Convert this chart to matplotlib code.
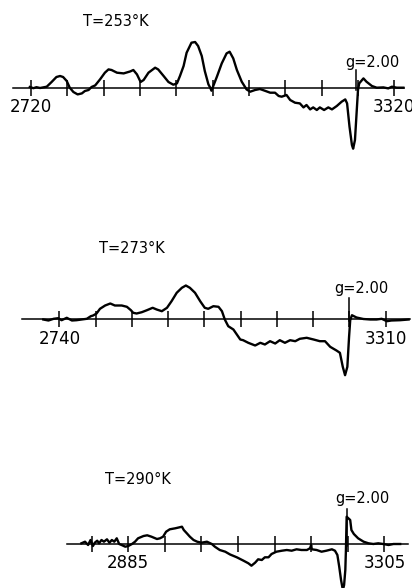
import matplotlib.pyplot as plt

# EPR spectra at three temperatures, field in gauss, amplitude in arbitrary units

# T = 253 K
field_253 = [2718, 2724, 2729, 2735, 2740, 2746, 2754, 2762, 2768, 2773, 2779, 2784,
             2790, 2797, 2804, 2809, 2815, 2820, 2826, 2834, 2842, 2848, 2853, 2862,
             2873, 2884, 2889, 2895, 2901, 2906, 2914, 2925, 2930, 2939, 2947, 2955,
             2961, 2966, 2972, 2977, 2985, 2991, 2996, 3002, 3007, 3013, 3016, 3018,
             3027, 3035, 3043, 3048, 3054, 3060, 3068, 3076, 3082, 3090, 3098, 3106,
             3115, 3123, 3129, 3134, 3142, 3148, 3156, 3164, 3170, 3175, 3181, 3186,
             3192, 3197, 3204, 3211, 3217, 3225, 3233, 3239, 3242, 3246, 3250, 3252,
             3255, 3258, 3260, 3262, 3269, 3274, 3283, 3291, 3302, 3310, 3316, 3324,
             3335]
amp_253 = [0.7, -0.5, 0.5, -0.3, 0.3, 1.0, 5.7, 10.7, 11.7, 10.7, 6.7, 0,
           -4.3, -6.7, -5.7, -3.3, -2.3, 0.7, 2.3, 8.3, 15, 18.3, 17.7, 15,
           14.3, 16.3, 17.7, 13.3, 5.7, 7.7, 15, 20, 18.3, 11.7, 5.7, 3,
           4.3, 11.7, 21.7, 35, 45, 45.7, 41.7, 31.7, 16.7, 3.3, 0, -3,
           11, 24.3, 34.3, 36, 29.3, 17.7, 6, -1.7, -4, -2.3, -1.3, -3,
           -5, -5, -8.3, -9, -7.3, -12.3, -15, -15.7, -19.7, -17.3, -21.7, -19.7,
           -22.3, -19.7, -22.3, -19.7, -21.7, -18.3, -14, -11.7, -15.7, -39, -57.3, -61,
           -52.3, -22.3, -2.3, 4.3, 9.3, 6, 1.7, 0, 0.3, -0.7, 1, 0,
           0]

# T = 273 K
field_273 = [2712, 2721, 2730, 2738, 2744, 2753, 2762, 2770, 2779, 2788, 2795, 2799,
             2805, 2811, 2820, 2829, 2837, 2849, 2858, 2865, 2869, 2875, 2884, 2893,
             2903, 2910, 2919, 2928, 2936, 2945, 2954, 2961, 2968, 2977, 2986, 2994,
             3000, 3009, 3018, 3024, 3029, 3035, 3044, 3050, 3056, 3061, 3070, 3082,
             3091, 3099, 3108, 3117, 3125, 3134, 3143, 3152, 3160, 3172, 3184, 3195,
             3204, 3213, 3218, 3224, 3230, 3235, 3239, 3243, 3246, 3248, 3251, 3259,
             3271, 3283, 3294, 3303, 3312, 3320, 3335, 3350]
amp_273 = [0, -1, 0.7, 1.3, -0.7, 1.7, -1, -0.7, 0, 0.7, 3.3, 4,
           6, 10.7, 14, 16, 14, 14, 12.7, 9.3, 6.7, 6, 7.3, 9.3,
           11.7, 10, 8.3, 11.7, 18.3, 26.7, 31.7, 34, 31.7, 26.7, 18.3, 11.7,
           10.7, 13.3, 12.7, 8.3, 0, -6.7, -10, -15, -20, -20.7, -23.3, -26,
           -23.3, -25, -21.7, -24, -20.7, -23.3, -20.7, -21.7, -19.3, -18.3, -20, -21.7,
           -21.7, -27.3, -29, -31, -33.3, -47.3, -55.7, -47.3, -17.3, -0.7, 4.3, 2,
           0.5, 0, 0, 0.7, -1.7, -1, -0.7, 0]

# T = 290 K
field_290 = [2808, 2814, 2819, 2823, 2827, 2830, 2834, 2837, 2841, 2845, 2850, 2854,
             2858, 2862, 2866, 2870, 2874, 2880, 2885, 2891, 2896, 2901, 2910, 2916,
             2923, 2932, 2937, 2942, 2947, 2953, 2962, 2969, 2973, 2976, 2981, 2986,
             2992, 2998, 3005, 3014, 3022, 3027, 3035, 3044, 3052, 3063, 3074, 3082,
             3087, 3093, 3098, 3104, 3109, 3115, 3120, 3128, 3137, 3145, 3153, 3161,
             3169, 3178, 3183, 3185, 3186, 3194, 3202, 3210, 3219, 3224, 3228, 3231,
             3234, 3237, 3239, 3241, 3242, 3242.7, 3243.2, 3246, 3249, 3251, 3255, 3262,
             3271, 3279, 3287, 3295, 3303, 3312, 3320, 3331]
amp_290 = [0.7, 2.3, -1, 4, -2, 1.3, 3.3, 0.7, 4, 2.3, 4.7, 1.3,
           4, 2.3, 5.7, 0, -1, -2.7, -2, 0, 2.3, 5.7, 8, 8.7,
           7.3, 5, 5.7, 7.3, 12.3, 14.7, 15.7, 16.7, 17.3, 14, 10.7, 7.3,
           4, 2.3, 1.3, 2.3, 0, -2.7, -6, -7.7, -10.5, -13.3, -16.7, -19.3,
           -21.7, -18.7, -15.3, -16, -13.3, -13.3, -10, -7.7, -6.7, -6, -6.7, -5.3,
           -6, -6, -4.3, -1, -5.3, -6, -7.7, -6.7, -5.3, -6.7, -11, -22.7,
           -36, -46, -41, -26, -6, 14, 27.3, 25.7, 24, 14, 10, 5.7,
           2.3, 0.7, 0, 0.7, 0, -1, 0, 0]

ticks_253 = [2720, 2780, 2840, 2900, 2960, 3020, 3080, 3140, 3200, 3260, 3320]
ticks_273 = [2740, 2803.3, 2866.7, 2930, 2993.3, 3056.7, 3120, 3183.3, 3246.7, 3310]
ticks_290 = [2825, 2885, 2945, 3005, 3065, 3125, 3185, 3245, 3305]
labels_253 = ["2720", "", "", "", "", "", "", "", "", "", "3320"]
labels_273 = ["2740", "", "", "", "", "", "", "", "", "3310"]
labels_290 = ["", "2885", "", "", "", "", "", "", "3305"]

titles = ["T=253°K", "T=273°K", "T=290°K"]
g_field = [3256.7, 3245.9, 3243.3]

W, H = 412, 588
fig = plt.figure(figsize=(W / 100, H / 100), dpi=100)

panels = [
    # field, amp, ticks, labels, band (px top, bottom), baseline px, xlim, axis extent, title pos, g label pos, g line top
    (field_253, amp_253, ticks_253, labels_253, (0, 196), 87.7, (2668.8, 3349.2),
     (2690, 3336), (2859.5, 65.7), (3284, 25.5), 17.7),
    (field_273, amp_273, ticks_273, labels_273, (196, 392), 319.5, (2636.4, 3355.9),
     (2674, 3352), (2866.4, 70.5), (3268, 30.5), 21.3),
    (field_290, amp_290, ticks_290, labels_290, (392, 588), 544.0, (2674.5, 3350.4),
     (2784, 3344), (2901, 65), (3269, 45), 34.7),
]

for i, (fx, ay, tk, tl, band, base, xl, ext, tpos, gpos, gtop) in enumerate(panels):
    top, bot = band
    ax = fig.add_axes([0, 1 - bot / H, 1, (bot - top) / H])
    ax.set_xlim(*xl)
    ax.set_ylim(-(bot - base), base - top)
    ax.patch.set_alpha(0)

    ax.plot(fx, ay, color="black", lw=1.7, solid_joinstyle="round")
    ax.plot([g_field[i], g_field[i]], [-2, gtop], color="black", lw=1.1)

    for s in ["top", "left", "right"]:
        ax.spines[s].set_visible(False)
    ax.spines["bottom"].set_position(("data", 0))
    ax.spines["bottom"].set_bounds(*ext)
    ax.spines["bottom"].set_linewidth(1.1)
    ax.set_yticks([])
    ax.set_xticks(tk)
    ax.set_xticklabels(tl)
    ax.tick_params(axis="x", direction="inout", length=11, width=1.1, pad=2,
                   labelsize=12)

    ax.text(tpos[0], tpos[1], titles[i], ha="center", va="center", fontsize=10.5)
    ax.text(gpos[0], gpos[1], "g=2.00", ha="center", va="center", fontsize=10.5)

fig.savefig("out.png", dpi=100, facecolor="white")
